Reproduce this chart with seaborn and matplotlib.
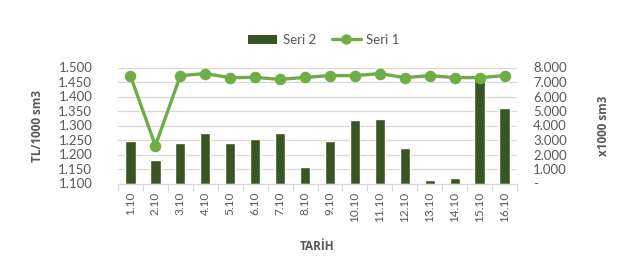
import matplotlib
matplotlib.use("Agg")
import matplotlib.pyplot as plt
import seaborn as sns
import numpy as np
import pandas as pd
from matplotlib.ticker import FixedLocator, FuncFormatter
from matplotlib.lines import Line2D
from matplotlib.patches import Patch

dates = ["1.10", "2.10", "3.10", "4.10", "5.10", "6.10", "7.10", "8.10",
         "9.10", "10.10", "11.10", "12.10", "13.10", "14.10", "15.10", "16.10"]
seri2 = [2950, 1600, 2800, 3500, 2800, 3050, 3500, 1130,
         2950, 4380, 4450, 2450, 230, 370, 7300, 5200]
seri1 = [1.471, 1.230, 1.472, 1.479, 1.465, 1.466, 1.459, 1.466,
         1.472, 1.472, 1.479, 1.465, 1.472, 1.465, 1.465, 1.472]
left_ticks = [1.100, 1.150, 1.200, 1.250, 1.300, 1.350, 1.400, 1.450, 1.500]
right_ticks = [0, 1000, 2000, 3000, 4000, 5000, 6000, 7000, 8000]

df = pd.DataFrame({"Tarih": dates, "Seri 2": seri2, "Seri 1": seri1})

sns.set_theme(style="white")
plt.rcParams["font.family"] = ["Lato", "DejaVu Sans"]
LABEL_FONT = ["Open Sans", "DejaVu Sans"]

BAR = "#375623"
LINE = "#70AD47"
TXT = "#595959"
GRID = "#D9D9D9"

fig = plt.figure(figsize=(6.28, 2.59), dpi=100)
ax = fig.add_axes([118/628, 1 - 183.5/259, (517-118)/628, (183.5-67.5)/259])

sns.barplot(data=df, x="Tarih", y="Seri 2", color=BAR, saturation=1,
            width=0.41, ax=ax, zorder=2)

ax2 = ax.twinx()
sns.pointplot(data=df, x="Tarih", y="Seri 1", color=LINE, markers="o",
              linestyles="-", errorbar=None, ax=ax2,
              linewidth=2.4, markersize=6.5, zorder=5)

# bars axis -> right side, line axis -> left side
ax.set_ylim(0, 8000)
ax.yaxis.set_major_locator(FixedLocator(right_ticks))
ax.yaxis.set_major_formatter(FuncFormatter(
    lambda v, p: "-" if v == 0 else f"{v:,.0f}".replace(",", ".")))
ax.yaxis.tick_right()
ax.yaxis.set_label_position("right")

ax2.set_ylim(1.100, 1.500)
ax2.yaxis.set_major_locator(FixedLocator(left_ticks))
ax2.yaxis.set_major_formatter(FuncFormatter(lambda v, p: f"{v:.3f}"))
ax2.yaxis.tick_left()
ax2.yaxis.set_label_position("left")

ax.set_xlim(-0.5, len(dates) - 0.5)
ax2.set_xlim(-0.5, len(dates) - 0.5)

for t in right_ticks[1:]:
    ax.axhline(t, color=GRID, lw=0.9, zorder=0)

for a in (ax, ax2):
    for s in a.spines.values():
        s.set_visible(False)
ax.spines["bottom"].set_visible(True)
ax.spines["bottom"].set_color(GRID)
ax.spines["bottom"].set_linewidth(0.9)

ax.set_xticks(range(len(dates)))
ax.set_xticklabels(dates, rotation=90, color=TXT, fontsize=8.5, va="top")
ax.set_xticks(np.arange(-0.5, len(dates), 1.0), minor=True)
ax.tick_params(axis="x", which="major", length=0, pad=6)
ax.tick_params(axis="x", which="minor", length=5, color=GRID, width=0.9,
               bottom=True)
ax.tick_params(axis="y", which="both", length=0, labelsize=9.5,
               labelcolor=TXT, pad=11.5, left=False, labelleft=False,
               right=True, labelright=True)
ax2.tick_params(axis="y", which="both", length=0, labelsize=9.5,
                labelcolor=TXT, pad=18.5, left=True, labelleft=True,
                right=False, labelright=False)

ax.set_ylabel("x1000 sm3", fontsize=8.5, fontweight="bold", color=TXT,
              labelpad=22, family=LABEL_FONT)
ax2.set_ylabel("TL/1000 sm3", fontsize=8.5, fontweight="bold", color=TXT,
               labelpad=10, family=LABEL_FONT)
ax.set_xlabel("TARİH", fontsize=8.5, fontweight="bold", color=TXT,
              labelpad=13, family=LABEL_FONT)
ax2.set_xlabel("")

handles = [Patch(facecolor=BAR, edgecolor="none"),
           Line2D([0], [0], color=LINE, lw=2.4, marker="o", markersize=6.5)]
fig.legend(handles, ["Seri 2", "Seri 1"], loc="center", ncol=2,
           bbox_to_anchor=(324/628, 1 - 40/259), frameon=False,
           fontsize=9.5, labelcolor=TXT, handlelength=2.2, handletextpad=0.4,
           columnspacing=1.2)

fig.savefig("out.png", dpi=100, facecolor="white")
